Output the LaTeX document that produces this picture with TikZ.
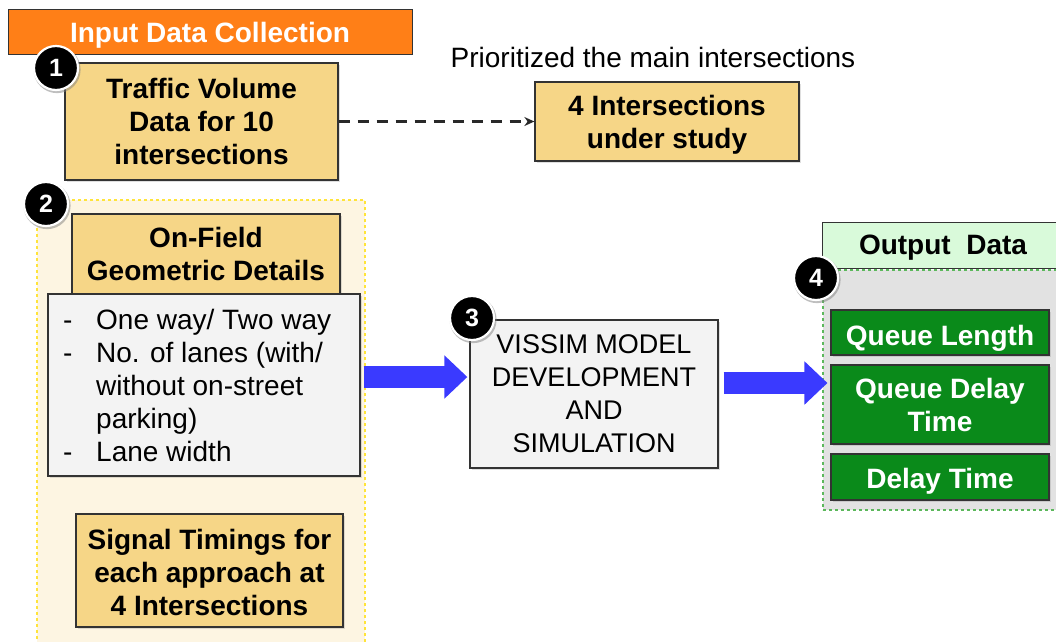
\documentclass[tikz,border=0pt]{standalone}
\usepackage{fontspec}
\setmainfont{Liberation Sans}
\usetikzlibrary{arrows.meta,shadows}

\definecolor{titleorange}{HTML}{FF7F17}
\definecolor{gold}{HTML}{F6D687}
\definecolor{cream}{HTML}{FDF5E2}
\definecolor{paleGray}{HTML}{F3F3F3}
\definecolor{mint}{HTML}{D9FADA}
\definecolor{panelGray}{HTML}{E2E2E2}
\definecolor{darkGreen}{HTML}{0A8A1A}
\definecolor{flowBlue}{HTML}{3A3AFF}
\definecolor{dashYellow}{HTML}{FFE43A}
\definecolor{dashGreen}{HTML}{5CB85C}
\definecolor{edge}{HTML}{333333}

\tikzset{
  txt/.style={font=\fontsize{28}{33}\selectfont},
  btxt/.style={font=\fontsize{28}{33}\selectfont\bfseries},
  boxbase/.style={draw=edge, line width=1.3pt, inner sep=0pt, align=center,
    drop shadow={opacity=0.25, shadow xshift=1.5pt, shadow yshift=-1.5pt}},
  goldbox/.style={boxbase, fill=gold, btxt},
  graybox/.style={boxbase, fill=paleGray, txt},
  greenbox/.style={boxbase, fill=darkGreen, text=white, btxt},
  boxtext/.style={btxt, align=center, inner sep=0pt},
  badge/.style={circle, fill=black, draw=white, line width=2.2pt, minimum size=44pt,
    inner sep=0pt, text=white, font=\fontsize{25}{25}\selectfont\bfseries,
    drop shadow={opacity=0.5, shadow xshift=1pt, shadow yshift=-1.5pt, shadow scale=1.07}},
  blockarrow/.style={draw=flowBlue, line width=22pt,
    -{Triangle[width=42pt, length=23pt, fill=flowBlue]}},
}

\begin{document}
\begin{tikzpicture}[x=1pt, y=-1pt]
\useasboundingbox (0,0) rectangle (1056,641);
\clip (0,0) rectangle (1056,641);

% background panels
\node[draw=dashYellow, dashed, line width=1.3pt, fill=cream, inner sep=0pt,
      minimum width=328pt, minimum height=450pt] (panelIn) at (201,425) {};
\node[draw=edge, line width=1pt, fill=mint, inner sep=0pt,
      minimum width=240pt, minimum height=46pt] (outHead) at (942,245) {};
\node[btxt] (outHeadText) at (943,248) {Output~ Data};
\node[draw=dashGreen, dashed, line width=1.1pt, fill=panelGray, inner sep=0pt,
      minimum width=240pt, minimum height=240pt] (panelOut) at (943,390) {};

% title bar
\node[draw=edge, line width=1pt, fill=titleorange, text=white, btxt, inner sep=0pt,
      text height=22pt, text depth=0pt,
      minimum width=404pt, minimum height=45pt] (title) at (210,31.5) {Input Data Collection};

% step 1
\node[goldbox, minimum width=273pt, minimum height=117pt] (traffic) at (201.5,121.5)
  {Traffic Volume\\Data for 10\\intersections};
\node[goldbox, minimum width=264pt, minimum height=79pt] (study) at (667,121.5) {};
\node[boxtext] (studyText) at ([yshift=-3pt]study.center) {4 Intersections\\under study};
\node[txt] (prio) at (653,57) {Prioritized the main intersections};
\draw[edge!80!black, line width=2.6pt, dash pattern=on 11pt off 8pt,
      -{Stealth[length=10pt, width=9pt]}] (traffic.east) -- (study.west);

% step 2
\node[goldbox, minimum width=268pt, minimum height=80pt] (onfield) at (206,254)
  {On-Field\\Geometric Details};
\node[graybox, minimum width=312pt, minimum height=182pt] (geo) at (204,385) {};
\node[txt, anchor=west, inner sep=0pt, align=left] (geoList) at (63,389)
  {\begin{tabular}{@{}p{33pt}@{}l@{}}
    - & One way/ Two way\\
    - & No. of lanes (with/\\
      & without on-street\\
      & parking)\\
    - & Lane width
  \end{tabular}};
\node[goldbox, minimum width=267pt, minimum height=113pt] (signal) at (209.5,570.5) {};
\node[boxtext] (signalText) at ([yshift=-2pt]signal.center)
  {Signal Timings for\\each approach at\\4 Intersections};

% step 3
\node[graybox, minimum width=248pt, minimum height=148pt, font=\fontsize{27}{33}\selectfont]
  (vissim) at (594,394) {VISSIM MODEL\\DEVELOPMENT\\AND\\SIMULATION};

% step 4 outputs
\node[greenbox, minimum width=218pt, minimum height=45pt, text height=25pt, text depth=0pt]
  (qlen) at (940,332.5) {Queue Length};
\node[greenbox, minimum width=218pt, minimum height=79pt] (qdelay) at (940,404.5)
  {Queue Delay\\Time};
\node[greenbox, minimum width=218pt, minimum height=46pt, text height=22pt, text depth=0pt]
  (delay) at (940,477) {Delay Time};

% flow arrows
\coordinate (tipOut) at (panelOut.west |- vissim.east);
\draw[blockarrow] ([xshift=3pt, yshift=8pt]geo.east) -- ([xshift=-2pt, yshift=17pt]vissim.west);
\draw[blockarrow] ([xshift=5pt, yshift=11pt]vissim.east) -- ([xshift=5pt, yshift=11pt]tipOut);

% numbered badges
\node[badge] (b1) at (56,68) {1};
\node[badge] (b2) at (46,204) {2};
\node[badge] (b3) at (472,318) {3};
\node[badge] (b4) at (816,278) {4};
\end{tikzpicture}
\end{document}
